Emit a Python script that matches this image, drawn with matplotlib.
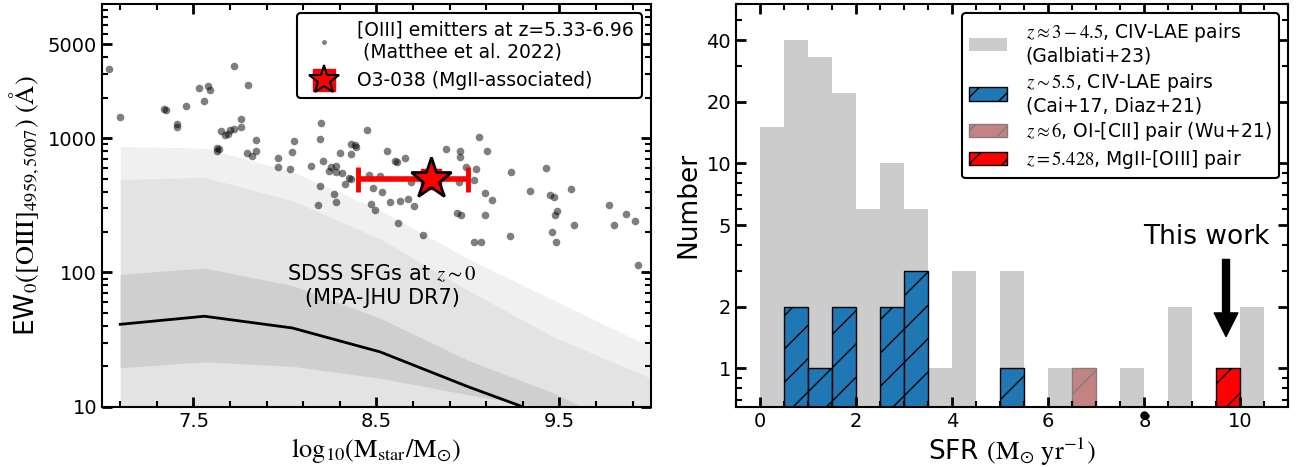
import numpy as np
import matplotlib.pyplot as plt
from matplotlib.lines import Line2D
from matplotlib.ticker import FixedLocator, MultipleLocator, NullFormatter

plt.rcParams['font.family'] = ['DejaVu Sans']
plt.rcParams['mathtext.fontset'] = 'stix'

# --- left panel: [OIII] emitters (Matthee+22), log10(M*) and EW0
mass_o3 = [7.04, 7.10, 7.34, 7.35, 7.41, 7.41, 7.46, 7.53, 7.56, 7.58, 7.59, 7.72, 7.80, 7.76, 7.76,
           7.65, 7.67, 7.69, 7.70, 7.72, 7.63, 7.63, 7.64, 7.79, 7.82, 7.84, 7.84, 7.96, 7.96, 8.03,
           8.04, 8.05, 8.14, 8.18, 8.19, 8.19, 8.195, 8.21, 8.24, 8.25, 8.27, 8.28, 8.28, 8.28, 8.30,
           8.31, 8.33, 8.35, 8.36, 8.36, 8.38, 8.36, 8.39, 8.45, 8.46, 8.47, 8.48, 8.49,
           8.52, 8.53, 8.556, 8.574, 8.60, 8.61, 8.62, 8.63, 8.654, 8.67, 8.69, 8.705, 8.756, 8.878,
           8.942, 8.962, 8.951, 8.954, 8.955, 8.989, 9.031, 9.033, 9.045, 9.058, 9.073, 9.095, 9.095,
           9.102, 9.129, 9.23, 9.237, 9.337, 9.424, 9.446, 9.461, 9.468, 9.474, 9.479, 9.488, 9.561,
           9.581, 9.77, 9.798, 9.863, 9.913, 9.93]
ew_o3 = [3300, 1445, 1660, 1620, 1270, 1220, 1740, 2360, 1910, 2440, 2290, 3440, 2480, 1390, 1220,
         1140, 1060, 1075, 1150, 1180, 850, 800, 835, 776, 733, 975, 807, 708, 614, 586,
         789, 946, 625, 317, 439, 986, 1300, 673, 570, 607, 387, 625, 334, 557, 776,
         554, 459, 509, 494, 899, 885, 758, 860, 1156, 530, 323, 429, 291,
         526, 401, 807, 333, 681, 665, 235, 343, 716, 353, 470, 311, 191, 832,
         276, 266, 470, 798, 720, 611, 168, 489, 593, 1030, 170, 394, 266,
         798, 347, 186, 564, 406, 597, 378, 201, 363, 266, 168, 289, 420,
         224, 319, 225, 274, 241, 113]

# O3-038
mass_star = [8.8]
ew_star = [500]
mass_err = [[0.4], [0.2]]

# SDSS SFGs (MPA-JHU DR7) percentile bands and median
sdss_mass = [7.1, 7.56, 8.04, 8.52, 9.0, 9.47, 10.0]
sdss_med = [41.1, 47.2, 38.6, 25.6, 14.1, 8.2, 5.0]
sdss_out_hi = [869, 845, 566, 290, 127, 62, 27.9]
sdss_out_lo = [3, 3, 3, 2, 1, 1, 1]
sdss_mid_hi = [492, 511, 343, 178, 73.6, 33, 16.3]
sdss_mid_lo = [6, 6, 6, 5, 3, 2, 1.5]
sdss_in_hi = [96.9, 108, 80, 45.6, 22.2, 12.6, 5.6]
sdss_in_lo = [19.5, 21.6, 20, 16.3, 12.3, 9.5, 6]

# --- right panel: SFR histograms (bins of 0.5 from 0 to 10.5)
sfr_edges = np.arange(0, 10.51, 0.5)
n_galbiati = [15, 40, 33, 22, 6, 10, 6, 1, 3, 0, 3, 0, 1, 1, 0, 1, 0, 2, 0, 0, 2]
n_civ = [0, 2, 1, 2, 0, 2, 3, 0, 0, 0, 1, 0, 0, 0, 0, 0, 0, 0, 0, 0, 0]
n_wu = [0, 0, 0, 0, 0, 0, 0, 0, 0, 0, 0, 0, 0, 1, 0, 0, 0, 0, 0, 0, 0]
n_this = [0, 0, 0, 0, 0, 0, 0, 0, 0, 0, 0, 0, 0, 0, 0, 0, 0, 0, 0, 1, 0]
stray_x = [8.0]
stray_y = [0.59]

fig = plt.figure(figsize=(13.04, 4.67), dpi=100)
ax1 = fig.add_axes([0.0782, 0.1291, 0.4210, 0.8623])
ax2 = fig.add_axes([0.5644, 0.1291, 0.4237, 0.8623])

############ left
ax1.fill_between(sdss_mass, sdss_out_lo, sdss_out_hi, color='#f0f0f0', lw=0, zorder=1)
ax1.fill_between(sdss_mass, sdss_mid_lo, sdss_mid_hi, color='#e3e3e3', lw=0, zorder=1)
ax1.fill_between(sdss_mass, sdss_in_lo, sdss_in_hi, color='#cfcfcf', lw=0, zorder=1)
ax1.plot(sdss_mass, sdss_med, color='k', lw=2, zorder=2)

ax1.plot(mass_o3, ew_o3, 'o', color='k', alpha=0.5, ms=5.5, mew=0, zorder=3)
ax1.errorbar(mass_star, ew_star, xerr=mass_err, fmt='s', color='red', ms=15,
             elinewidth=4, capsize=9, capthick=3.5, zorder=5)
ax1.plot(mass_star, ew_star, marker='*', ms=31, mfc='red', mec='k', mew=2, ls='none', zorder=6)

ax1.text(8.53, 80, 'SDSS SFGs at $z\\sim0$\n(MPA-JHU DR7)', ha='center', va='center',
         fontsize=15, zorder=4)

ax1.set_yscale('log')
ax1.set_xlim(7, 10)
ax1.set_ylim(10, 1e4)
ax1.set_xticks([7.5, 8.5, 9.5])
ax1.set_xticklabels(['7.5', '8.5', '9.5'])
ax1.xaxis.set_minor_locator(FixedLocator(np.arange(7.1, 10, 0.2)))
ax1.set_yticks([10, 100, 1000, 5000])
ax1.set_yticklabels(['10', '100', '1000', '5000'])
ax1.yaxis.set_minor_formatter(NullFormatter())
ax1.set_xlabel(r'$\mathrm{log_{10}(M_{star}/M_{\odot})}$', fontsize=19)
ax1.set_ylabel(r'EW$_{0}(\mathrm{[OIII]}_{4959,5007})\ (\mathrm{\AA})$', fontsize=19)

h_pts = Line2D([], [], ls='none', marker='o', color='gray', ms=2.5)
h_sq = Line2D([], [], ls='none', marker='s', color='red', ms=16)
h_st = Line2D([], [], ls='none', marker='*', mfc='red', mec='k', mew=1.5, ms=22)
leg1 = ax1.legend([h_pts, (h_sq, h_st)],
                  ['[OIII] emitters at z=5.33-6.96\n (Matthee et al. 2022)', 'O3-038 (MgII-associated)'],
                  loc='upper right', fontsize=13.5, edgecolor='k', framealpha=1)
leg1.get_frame().set_linewidth(1.5)

############ right
def draw_hist(ax, counts, **kw):
    counts = np.array(counts)
    left = sfr_edges[:-1]
    m = counts > 0
    return ax.bar(left[m], counts[m], width=0.5, align='edge', **kw)

draw_hist(ax2, n_galbiati, color='#cccccc', lw=0,
          label='$z\\approx3-4.5$, CIV-LAE pairs\n(Galbiati+23)')
draw_hist(ax2, n_civ, color='#1f77b4', edgecolor='k', hatch='/', lw=1,
          label='$z\\sim5.5$, CIV-LAE pairs\n(Cai+17, Diaz+21)')
draw_hist(ax2, n_wu, color='#c48282', edgecolor='#7f7f7f', hatch='/', lw=1,
          label='$z\\approx6$, OI-[CII] pair (Wu+21)')
draw_hist(ax2, n_this, color='red', edgecolor='k', hatch='/', lw=1,
          label='$z=5.428$, MgII-[OIII] pair')

ax2.plot(stray_x, stray_y, 'o', color='k', ms=5, clip_on=False, zorder=10)

ax2.annotate('', xy=(9.7, 1.43), xytext=(9.7, 3.4),
             arrowprops=dict(facecolor='k', edgecolor='k', width=5, headwidth=17,
                             headlength=17, shrink=0))
ax2.text(9.3, 4.4, 'This work', ha='center', va='center', fontsize=19)

ax2.set_yscale('log')
ax2.set_xlim(-0.5, 11)
ax2.set_ylim(0.65, 60)
ax2.set_xticks([0, 2, 4, 6, 8, 10])
ax2.xaxis.set_minor_locator(MultipleLocator(0.5))
ax2.set_yticks([1, 2, 5, 10, 20, 40])
ax2.set_yticklabels(['1', '2', '5', '10', '20', '40'])
ax2.yaxis.set_minor_formatter(NullFormatter())
ax2.set_xlabel(r'SFR $(\mathrm{M_{\odot}\ yr^{-1}})$', fontsize=19)
ax2.set_ylabel('Number', fontsize=19)
leg2 = ax2.legend(loc='upper right', fontsize=13.5, edgecolor='k', framealpha=1,
                  labelspacing=0.25, handletextpad=1.0)
leg2.get_frame().set_linewidth(1.5)

for ax in [ax1, ax2]:
    ax.tick_params(which='both', direction='in', top=True, right=True, labelsize=14)
    ax.tick_params(which='major', length=7, width=2)
    ax.tick_params(which='minor', length=4, width=1.5)
    for s in ax.spines.values():
        s.set_linewidth(1.5)

fig.savefig('out.png', dpi=100)
